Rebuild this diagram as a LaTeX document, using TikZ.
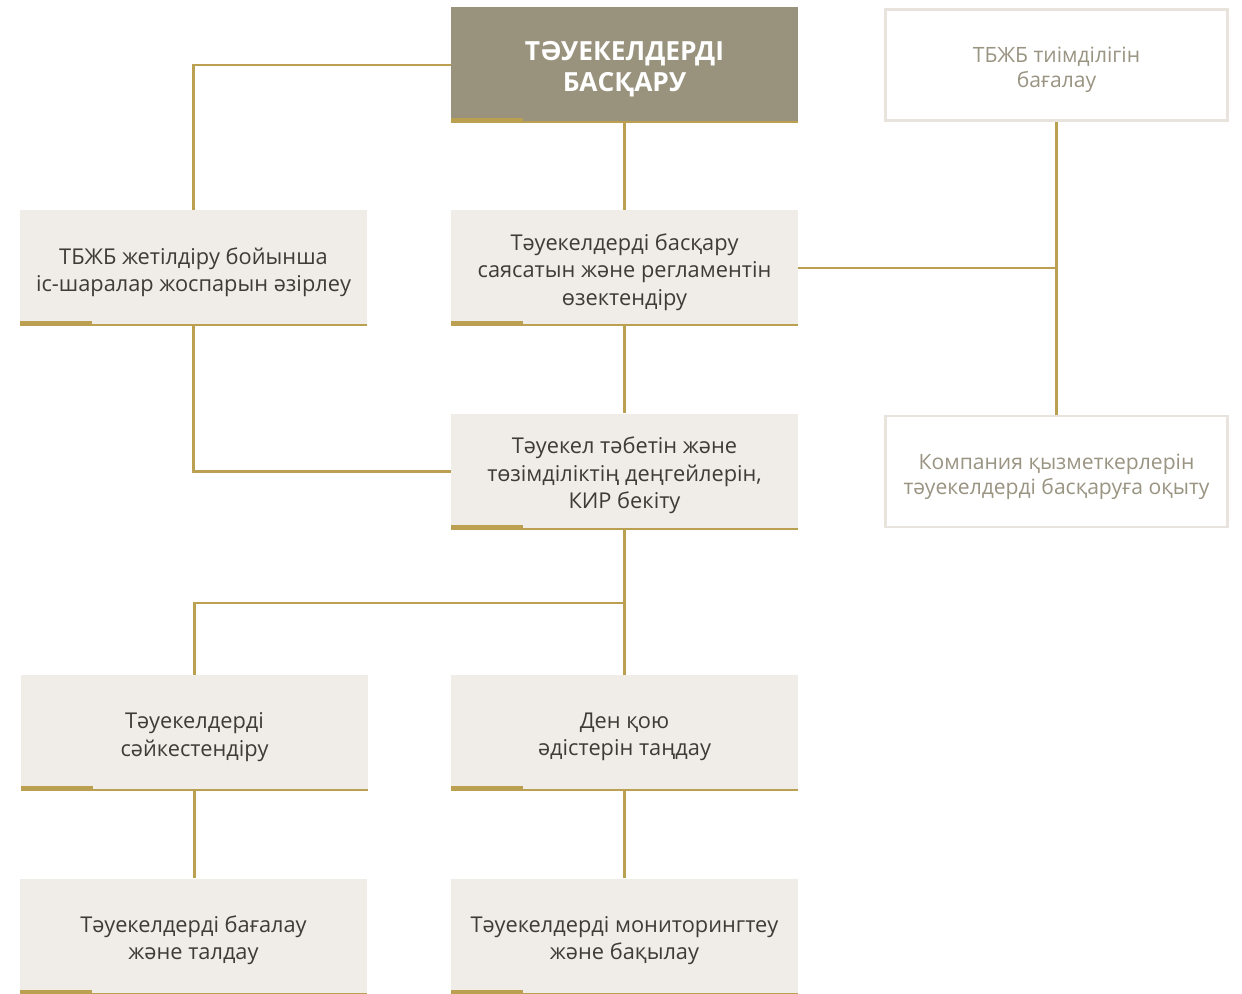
\documentclass[tikz,border=0pt]{standalone}
\usepackage{fontspec}
\setmainfont{Open Sans}
\usetikzlibrary{positioning}
\definecolor{RiskGold}{HTML}{BBA052}
\definecolor{HeadOlive}{HTML}{99937E}
\definecolor{StepFill}{HTML}{F0EDE8}
\definecolor{SideBorder}{HTML}{E8E4DD}
\definecolor{BodyText}{HTML}{3F3B37}
\definecolor{MutedText}{HTML}{9A9482}

\begin{document}
\begin{tikzpicture}[x=0.02cm, y=-0.02cm,
    stepbox/.style={fill=StepFill, minimum width=6.94cm,
      minimum height=2.32cm, inner sep=0pt},
    headbox/.style={stepbox, fill=HeadOlive},
    sidebox/.style={draw=SideBorder, line width=1.6pt, fill=white,
      minimum width=6.84cm, minimum height=2.22cm, inner sep=0pt},
    steptext/.style={text=BodyText, align=center, inner sep=0pt,
      font=\fontsize{12.4}{15.6}\selectfont},
    headtext/.style={text=white, align=center, inner sep=0pt,
      font=\fontsize{15}{18}\selectfont\bfseries},
    sidetext/.style={text=MutedText, align=center, inner sep=0pt,
      font=\fontsize{12}{14.2}\selectfont},
    link/.style={RiskGold, line width=1.4pt}]
  \useasboundingbox (0,0) rectangle (1242,994);

  % boxes: main column
  \node[headbox] (head) at (624.5,65) {};
  \node[stepbox] (policy) at (624.5,268) {};
  \node[stepbox] (appetite) at (624.5,471.5) {};
  \node[stepbox] (response) at (624.5,733) {};
  \node[stepbox] (monitor) at (624.5,936.5) {};
  % boxes: left column
  \node[stepbox] (plan) at (193.5,268) {};
  \node[stepbox] (identify) at (194.5,733) {};
  \node[stepbox] (assess) at (193.5,936.5) {};
  % boxes: right column
  \node[sidebox] (efficiency) at (1056.5,65) {};
  \node[sidebox] (training) at (1056.5,471.5) {};

  % texts
  \node[headtext] (head-t) at ([yshift=-0.08cm]head) {ТӘУЕКЕЛДЕРДІ\\БАСҚАРУ};
  \node[steptext] (policy-t) at ([yshift=-0.08cm]policy)
    {Тәуекелдерді басқару\\саясатын және регламентін\\өзектендіру};
  \node[steptext] (appetite-t) at ([yshift=-0.08cm]appetite)
    {Тәуекел тәбетін және\\төзімділіктің деңгейлерін,\\КИР бекіту};
  \node[steptext] (response-t) at ([yshift=-0.08cm]response)
    {Ден қою\\әдістерін таңдау};
  \node[steptext] (monitor-t) at ([yshift=-0.08cm]monitor)
    {Тәуекелдерді мониторингтеу\\және бақылау};
  \node[steptext] (plan-t) at ([yshift=-0.08cm]plan)
    {ТБЖБ жетілдіру бойынша\\іс-шаралар жоспарын әзірлеу};
  \node[steptext] (identify-t) at ([yshift=-0.08cm]identify)
    {Тәуекелдерді\\сәйкестендіру};
  \node[steptext] (assess-t) at ([yshift=-0.08cm]assess)
    {Тәуекелдерді бағалау\\және талдау};
  \node[sidetext] (efficiency-t) at ([yshift=-0.1cm]efficiency)
    {ТБЖБ тиімділігін\\бағалау};
  \node[sidetext] (training-t) at ([yshift=-0.1cm]training)
    {Компания қызметкерлерін\\тәуекелдерді басқаруға оқыту};

  % gold bars under the boxes
  \foreach \n in {head,policy,appetite,response,monitor,plan,identify,assess}{
    \draw[RiskGold, line width=1.3pt] ([yshift=0.65pt]\n.south west) -- ([yshift=0.65pt]\n.south east);
    \fill[RiskGold] (\n.south west) rectangle ++(72,-5);
  }

  % connectors
  \coordinate (split) at (624.5,603);
  \draw[link] (head.west) -| (plan.north);
  \draw[link] (head.south) -- (policy.north);
  \draw[link] (policy.east) -- (policy.east -| efficiency.south);
  \draw[link] (efficiency.south) -- (training.north);
  \draw[link] (policy.south) -- (appetite.north);
  \draw[link] (plan.south) |- (appetite.west);
  \draw[link] (appetite.south) -- (response.north);
  \draw[link] (split) -| (identify.north);
  \draw[link] (identify.south |- assess.north) -- (identify.south);
  \draw[link] (response.south) -- (monitor.north);
\end{tikzpicture}
\end{document}
